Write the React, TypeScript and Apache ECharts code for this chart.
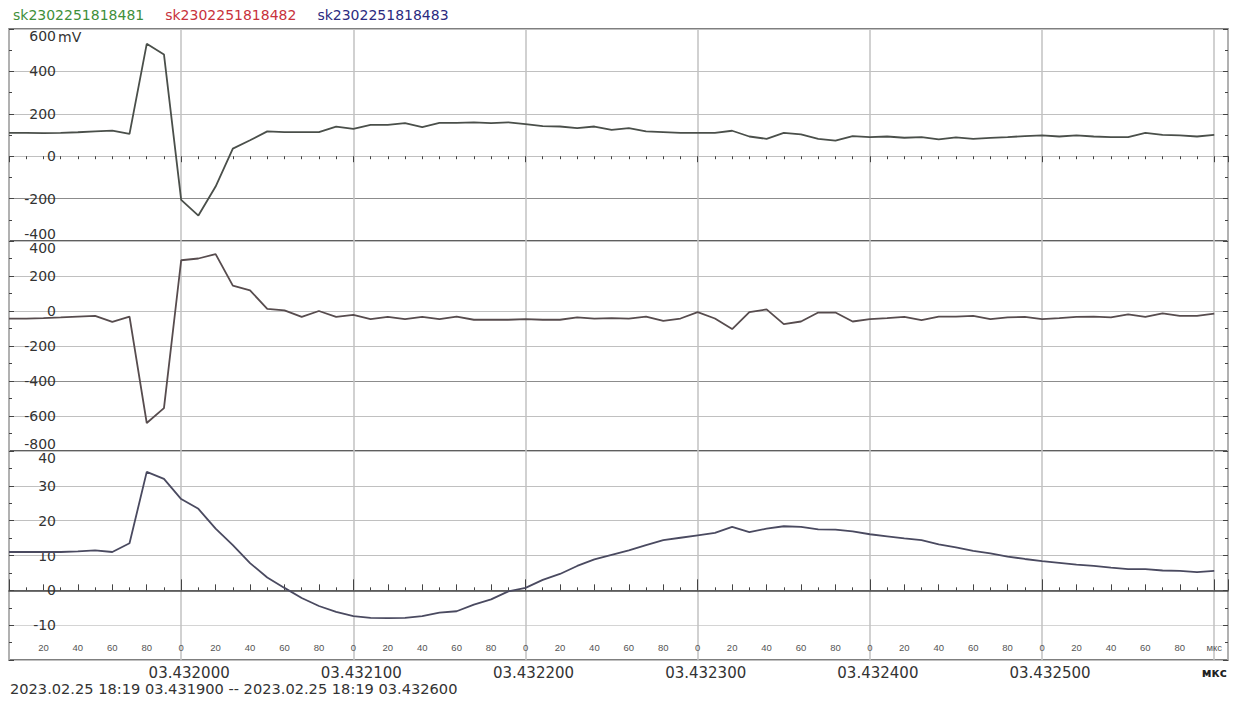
import React, { useEffect, useRef } from "react";
import * as echarts from "echarts";

// Sample times, µs past 18:19:03.430000
const times = [
  1900, 1910, 1920, 1930, 1940, 1950, 1960, 1970, 1980, 1990,
  2000, 2010, 2020, 2030, 2040, 2050, 2060, 2070, 2080, 2090,
  2100, 2110, 2120, 2130, 2140, 2150, 2160, 2170, 2180, 2190,
  2200, 2210, 2220, 2230, 2240, 2250, 2260, 2270, 2280, 2290,
  2300, 2310, 2320, 2330, 2340, 2350, 2360, 2370, 2380, 2390,
  2400, 2410, 2420, 2430, 2440, 2450, 2460, 2470, 2480, 2490,
  2500, 2510, 2520, 2530, 2540, 2550, 2560, 2570, 2580, 2590,
  2600,
];

// Channel values (mV)
const ch481 = [
  110, 110, 109, 110, 113, 117, 121, 105, 530, 480,
  -206, -280, -143, 36, 75, 117, 114, 114, 114, 140,
  129, 148, 148, 156, 137, 157, 157, 160, 156, 160,
  151, 142, 140, 132, 140, 124, 132, 117, 114, 110,
  110, 110, 120, 93, 82, 110, 103, 82, 73, 95,
  90, 93, 87, 90, 79, 89, 82, 86, 90, 95,
  98, 93, 98, 93, 90, 90, 110, 101, 98, 93,
  101,
];

const ch482 = [
  -43, -43, -41, -37, -32, -28, -62, -32, -640, -555,
  290, 300, 325, 145, 118, 12, 4, -34, 0, -34,
  -22, -47, -34, -47, -34, -47, -32, -50, -50, -50,
  -47, -50, -50, -37, -43, -41, -43, -32, -56, -43,
  -6, -43, -103, -6, 9, -75, -60, -9, -9, -60,
  -47, -41, -34, -52, -32, -32, -28, -47, -37, -34,
  -47, -41, -34, -32, -37, -19, -34, -13, -28, -28,
  -15,
];

const ch483 = [
  11, 11, 11, 11, 11.2, 11.5, 11, 13.5, 34, 32,
  26.2, 23.4, 17.7, 13, 7.8, 3.7, 0.7, -2.2, -4.5, -6.2,
  -7.4, -7.9, -8, -7.9, -7.4, -6.4, -6, -4.1, -2.6, -0.3,
  0.7, 3, 4.7, 7, 8.9, 10.2, 11.5, 13, 14.4, 15.1,
  15.8, 16.5, 18.2, 16.7, 17.7, 18.4, 18.2, 17.5, 17.4, 16.9,
  16.1, 15.5, 14.9, 14.4, 13.2, 12.3, 11.3, 10.6, 9.7, 9,
  8.4, 7.9, 7.4, 7, 6.5, 6.1, 6.1, 5.7, 5.6, 5.2,
  5.6,
];

const channelNames = ["sk2302251818481", "sk2302251818482", "sk2302251818483"];
const channelColors = ["#3f8f3a", "#c8323c", "#2b2b80"];
const lineColors = ["#4a4f4a", "#574c4e", "#4a4a60"];

// y ranges per panel: [min, max, step]
const yRanges: [number, number, number][] = [
  [-400, 600, 200],
  [-800, 400, 200],
  [-20, 40, 10],
];

// horizontal grid line colours per panel, bottom to top
const LIGHT = "#c0c0c0";
const DARK = "#8c8c8c";
const hGridColors = [
  [LIGHT, DARK, LIGHT, LIGHT, LIGHT, LIGHT],
  [LIGHT, LIGHT, DARK, LIGHT, LIGHT, LIGHT, LIGHT],
  [LIGHT, "#d4d4d4", "#a6a6a6", LIGHT, LIGHT, LIGHT, LIGHT],
];

const X_MIN = 1900;
const X_MAX = 2608;
const X_LAST = 2600;
const unitLabel = "мкс";
const rangeText = "2023.02.25 18:19 03.431900 -- 2023.02.25 18:19 03.432600";

const FONT = "DejaVu Sans";

export default function App() {
  const ref = useRef<HTMLDivElement>(null);

  useEffect(() => {
    if (!ref.current) return;
    const chart = echarts.init(ref.current, undefined, { renderer: "svg" });

    const channels = [ch481, ch482, ch483];
    const pairs = channels.map((vals) => times.map((t, i) => [t, vals[i]]));

    const gridBase = { left: 9, width: 1219, show: true, borderColor: "#555", borderWidth: 1.5, backgroundColor: "#fff" };
    const grids = [
      { ...gridBase, top: 29, height: 212 },
      { ...gridBase, top: 241, height: 210 },
      { ...gridBase, top: 451, height: 209 },
    ];

    const vSplit = { show: true, lineStyle: { color: "#c2c2c2", width: 1.5 } };

    const xAxes: any[] = [
      {
        type: "value", gridIndex: 0, position: "top", min: X_MIN, max: X_MAX, interval: 100,
        axisLine: { show: false },
        axisTick: { show: true, inside: true, length: 6, lineStyle: { color: "#444" } },
        minorTick: { show: true, splitNumber: 10, length: 3, lineStyle: { color: "#444" } },
        axisLabel: { show: false },
        splitLine: vSplit,
      },
      {
        type: "value", gridIndex: 1, position: "bottom", min: X_MIN, max: X_MAX, interval: 100,
        axisLine: { show: false }, axisTick: { show: false }, axisLabel: { show: false },
        splitLine: vSplit,
      },
      {
        type: "value", gridIndex: 2, position: "bottom", min: X_MIN, max: X_MAX, interval: 20,
        axisLine: { show: true, lineStyle: { color: "#444", width: 1.5 } },
        axisTick: { show: true, inside: true, length: 6, lineStyle: { color: "#444" } },
        minorTick: { show: true, splitNumber: 2, length: 3, lineStyle: { color: "#444" } },
        axisLabel: {
          inside: true, margin: 8, fontSize: 9.5, color: "#555", fontFamily: "Liberation Sans",
          formatter: (v: number) => {
            if (v === X_LAST) return unitLabel;
            if (v <= X_MIN || v > X_LAST) return "";
            return String(v % 100);
          },
        },
        splitLine: { show: false },
      },
      {
        type: "value", gridIndex: 2, position: "bottom", min: X_MIN, max: X_MAX, interval: 100,
        axisLine: { show: false },
        axisTick: { show: true, inside: true, length: 11, lineStyle: { color: "#444" } },
        axisLabel: {
          margin: 5, fontSize: 15, color: "#333", fontFamily: FONT,
          formatter: (v: number) => {
            if (v === X_LAST) return "{u|" + unitLabel + "}";
            if (v <= X_MIN || v > X_LAST) return "";
            return "{n|03." + (430000 + v) + "}";
          },
          rich: {
            n: { fontSize: 15, color: "#333", fontFamily: FONT, padding: [0, 0, 0, 16] },
            u: { fontSize: 12, color: "#222", fontFamily: FONT, fontWeight: "bold", padding: [2, 0, 0, 0] },
          },
        },
        splitLine: vSplit,
      },
    ];

    const leftAxes = yRanges.map(([min, max, step], i) => ({
      type: "value", gridIndex: i, position: "left", min, max, interval: step,
      axisLine: { show: false },
      axisTick: { show: true, inside: true, length: 5, lineStyle: { color: "#444" } },
      minorTick: { show: true, splitNumber: 2, length: 3, lineStyle: { color: "#444" } },
      axisLabel: {
        inside: true, align: "right", margin: 47, fontSize: 14, color: "#333", fontFamily: FONT,
        showMinLabel: i !== 2,
        verticalAlignMaxLabel: "top",
        verticalAlignMinLabel: "bottom",
      },
      splitLine: { show: true, lineStyle: { color: hGridColors[i], width: 1.2 } },
    }));

    const rightAxes = yRanges.map(([min, max, step], i) => ({
      type: "value", gridIndex: i, position: "right", min, max, interval: step,
      axisLine: { show: false },
      axisTick: { show: true, inside: true, length: 5, lineStyle: { color: "#444" } },
      minorTick: { show: true, splitNumber: 2, length: 3, lineStyle: { color: "#444" } },
      axisLabel: { show: false },
      splitLine: { show: false },
    }));

    chart.setOption({
      animation: false,
      backgroundColor: "#fff",
      legend: {
        left: 3, top: 3, icon: "none", itemWidth: 0, itemHeight: 0, itemGap: 16,
        selectedMode: false,
        textStyle: { fontSize: 14, fontFamily: FONT },
        data: channelNames.map((name, i) => ({ name, textStyle: { color: channelColors[i] } })),
      },
      grid: grids,
      xAxis: xAxes,
      yAxis: [...leftAxes, ...rightAxes],
      series: pairs.map((data, i) => ({
        type: "line",
        name: channelNames[i],
        xAxisIndex: i,
        yAxisIndex: i,
        data,
        symbol: "none",
        lineStyle: { color: lineColors[i], width: 1.8 },
        itemStyle: { color: channelColors[i] },
      })),
      graphic: [
        { type: "text", left: 58, top: 30, style: { text: "mV", fontSize: 14, fill: "#333", fontFamily: FONT } },
        { type: "text", left: 10, top: 681, style: { text: rangeText, fontSize: 14.6, fill: "#333", fontFamily: FONT } },
      ],
    });

    return () => chart.dispose();
  }, []);

  return (
    <div
      ref={ref}
      style={{ position: "absolute", left: 0, top: 0, width: 1239, height: 702, background: "#fff" }}
    />
  );
}
